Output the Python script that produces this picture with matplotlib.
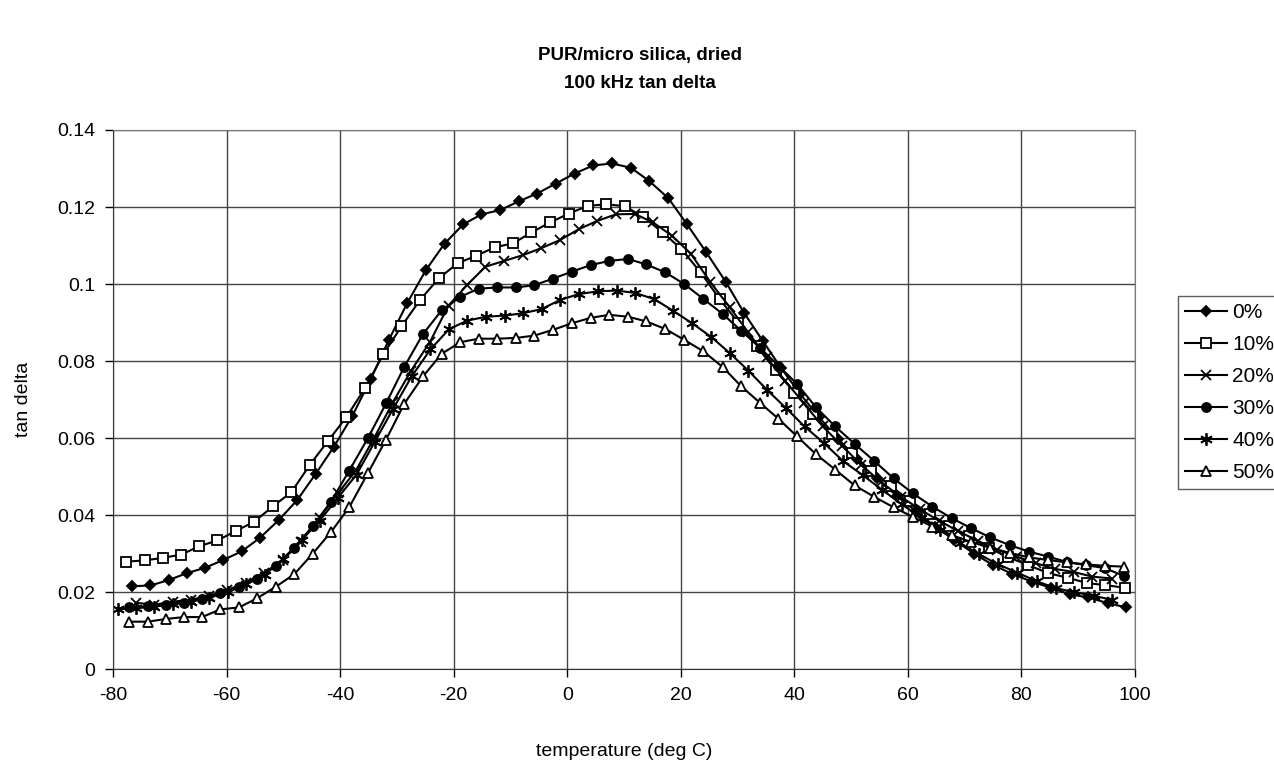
import matplotlib
matplotlib.use('Agg')
import matplotlib.pyplot as plt

plt.rcParams['font.family'] = ['Liberation Sans', 'DejaVu Sans']
plt.rcParams['axes.unicode_minus'] = False

# temperatures (deg C) per series
t0 = [-76.7, -73.4, -70.2, -67.0, -63.8, -60.6, -57.3, -54.1, -50.8, -47.6,
      -44.3, -41.1, -37.9, -34.6, -31.4, -28.2, -24.9, -21.6, -18.3, -15.1,
      -11.8, -8.5, -5.3, -2.0, 1.3, 4.6, 7.9, 11.2, 14.4, 17.8,
      21.1, 24.5, 27.9, 31.1, 34.4, 37.7, 41.0, 44.3, 47.7, 51.1,
      54.6, 58.0, 61.4, 64.8, 68.2, 71.6, 75.0, 78.4, 81.8, 85.2,
      88.5, 91.8, 95.2, 98.5]
t10 = [-77.7, -74.4, -71.2, -68.0, -64.8, -61.6, -58.3, -55.1, -51.8, -48.6,
       -45.3, -42.1, -38.9, -35.6, -32.4, -29.2, -25.9, -22.6, -19.3, -16.1,
       -12.8, -9.5, -6.3, -3.0, 0.3, 3.6, 6.9, 10.2, 13.4, 16.8,
       20.1, 23.5, 26.9, 30.1, 33.4, 36.7, 40.0, 43.2, 46.6, 50.1,
       53.5, 57.0, 60.4, 63.9, 67.3, 70.8, 74.2, 77.7, 81.2, 84.7,
       88.2, 91.6, 94.8, 98.2]
t20 = [-76.0, -72.7, -69.5, -66.3, -63.1, -59.9, -56.6, -53.4, -50.1, -46.9,
       -43.6, -40.4, -37.2, -33.9, -30.7, -27.5, -24.2, -20.9, -17.6, -14.4,
       -11.1, -7.8, -4.6, -1.3, 2.0, 5.3, 8.6, 11.9, 15.1, 18.5,
       21.8, 25.2, 28.6, 31.8, 35.1, 38.4, 41.7, 45.0, 48.4, 51.8,
       55.3, 58.7, 62.1, 65.5, 68.9, 72.3, 75.7, 79.1, 82.5, 85.9,
       89.2, 92.5, 95.9]
t30 = [-77.2, -73.9, -70.7, -67.5, -64.3, -61.1, -57.8, -54.6, -51.3, -48.1,
       -44.8, -41.6, -38.4, -35.1, -31.9, -28.7, -25.4, -22.1, -18.8, -15.6,
       -12.3, -9.0, -5.8, -2.5, 0.8, 4.1, 7.4, 10.7, 13.9, 17.3,
       20.6, 24.0, 27.4, 30.6, 33.9, 37.2, 40.5, 43.8, 47.2, 50.6,
       54.1, 57.5, 60.9, 64.3, 67.7, 71.1, 74.5, 77.9, 81.3, 84.7,
       88.0, 91.3, 94.7, 98.0]
t40 = [-79.1, -75.9, -72.7, -69.5, -66.3, -63.1, -59.8, -56.6, -53.3, -50.1,
       -46.8, -43.6, -40.4, -37.1, -33.9, -30.7, -27.4, -24.1, -20.8, -17.6,
       -14.3, -11.0, -7.8, -4.5, -1.2, 2.1, 5.4, 8.7, 11.9, 15.3,
       18.6, 22.0, 25.4, 28.6, 31.9, 35.2, 38.5, 41.8, 45.2, 48.6,
       52.1, 55.5, 58.9, 62.3, 65.7, 69.1, 72.5, 75.9, 79.3, 82.7,
       86.0, 89.3, 92.7, 96.0]
t50 = t30

# tan delta values
v0 = [0.0215, 0.0217, 0.0231, 0.0249, 0.0263, 0.0283, 0.0306, 0.0341, 0.0387, 0.0438,
      0.0507, 0.0577, 0.0656, 0.0753, 0.0855, 0.0950, 0.1036, 0.1105, 0.1155, 0.1181,
      0.1192, 0.1215, 0.1235, 0.1261, 0.1287, 0.1308, 0.1313, 0.1302, 0.1268, 0.1223,
      0.1155, 0.1082, 0.1006, 0.0926, 0.0853, 0.0781, 0.0715, 0.0655, 0.0598, 0.0545,
      0.0495, 0.0450, 0.0410, 0.0370, 0.0335, 0.0300, 0.0270, 0.0247, 0.0227, 0.0211,
      0.0194, 0.0186, 0.0171, 0.0160]
v10 = [0.0279, 0.0282, 0.0289, 0.0297, 0.0319, 0.0334, 0.0359, 0.0383, 0.0423, 0.0459,
       0.0531, 0.0593, 0.0654, 0.0730, 0.0817, 0.0890, 0.0959, 0.1015, 0.1054, 0.1073,
       0.1095, 0.1106, 0.1134, 0.1160, 0.1183, 0.1203, 0.1207, 0.1202, 0.1174, 0.1134,
       0.1091, 0.1030, 0.0960, 0.0900, 0.0838, 0.0776, 0.0718, 0.0663, 0.0610, 0.0560,
       0.0515, 0.0475, 0.0437, 0.0402, 0.0372, 0.0345, 0.0315, 0.0290, 0.0270, 0.0249,
       0.0237, 0.0223, 0.0218, 0.0211]
v20 = [0.0172, 0.0167, 0.0175, 0.0180, 0.0190, 0.0205, 0.0224, 0.0250, 0.0283, 0.0331,
       0.0393, 0.0456, 0.0516, 0.0603, 0.0693, 0.0775, 0.0849, 0.0944, 0.0998, 0.1045,
       0.1060, 0.1075, 0.1093, 0.1114, 0.1142, 0.1164, 0.1181, 0.1182, 0.1160, 0.1125,
       0.1078, 0.1005, 0.0940, 0.0876, 0.0810, 0.0748, 0.0690, 0.0630, 0.0580, 0.0530,
       0.0485, 0.0448, 0.0415, 0.0385, 0.0358, 0.0333, 0.0310, 0.0292, 0.0275, 0.0260,
       0.0252, 0.0240, 0.0235]
v30 = [0.0160, 0.0163, 0.0166, 0.0172, 0.0182, 0.0197, 0.0213, 0.0235, 0.0268, 0.0315,
       0.0372, 0.0435, 0.0515, 0.0600, 0.0690, 0.0785, 0.0870, 0.0932, 0.0967, 0.0988,
       0.0991, 0.0991, 0.0997, 0.1014, 0.1032, 0.1049, 0.1060, 0.1065, 0.1051, 0.1030,
       0.1000, 0.0961, 0.0922, 0.0879, 0.0835, 0.0788, 0.0740, 0.0680, 0.0630, 0.0585,
       0.0540, 0.0495, 0.0456, 0.0422, 0.0392, 0.0366, 0.0342, 0.0322, 0.0305, 0.0292,
       0.0278, 0.0270, 0.0262, 0.0242]
v40 = [0.0155, 0.0158, 0.0162, 0.0168, 0.0175, 0.0185, 0.0200, 0.0220, 0.0245, 0.0285,
       0.0335, 0.0385, 0.0445, 0.0505, 0.0590, 0.0675, 0.0760, 0.0830, 0.0883, 0.0905,
       0.0915, 0.0918, 0.0924, 0.0935, 0.0959, 0.0974, 0.0981, 0.0983, 0.0977, 0.0961,
       0.0931, 0.0898, 0.0862, 0.0821, 0.0775, 0.0725, 0.0678, 0.0630, 0.0587, 0.0540,
       0.0503, 0.0465, 0.0428, 0.0393, 0.0360, 0.0328, 0.0298, 0.0272, 0.0250, 0.0228,
       0.0210, 0.0200, 0.0190, 0.0180]
v50 = [0.0123, 0.0123, 0.0130, 0.0135, 0.0135, 0.0155, 0.0160, 0.0184, 0.0214, 0.0246,
       0.0300, 0.0356, 0.0420, 0.0509, 0.0596, 0.0689, 0.0760, 0.0819, 0.0849, 0.0858,
       0.0858, 0.0860, 0.0866, 0.0881, 0.0898, 0.0912, 0.0920, 0.0915, 0.0903, 0.0883,
       0.0855, 0.0825, 0.0784, 0.0735, 0.0692, 0.0650, 0.0604, 0.0558, 0.0518, 0.0477,
       0.0447, 0.0420, 0.0395, 0.0370, 0.0348, 0.0330, 0.0315, 0.0302, 0.0290, 0.0283,
       0.0277, 0.0272, 0.0268, 0.0266]

labels = ['0%', '10%', '20%', '30%', '40%', '50%']
temps = [t0, t10, t20, t30, t40, t50]
values = [v0, v10, v20, v30, v40, v50]
markers = ['D', 's', 'x', 'o', (6, 2, 0), '^']
sizes = [5.5, 6.5, 7.5, 6.5, 9, 6.5]
faces = ['black', 'white', 'black', 'black', 'black', 'white']

fig = plt.figure(figsize=(12.74, 7.62), dpi=100)
ax = fig.add_axes([0.0887, 0.122, 0.8022, 0.7074])

for t, v, lab, m, s, fc in zip(temps, values, labels, markers, sizes, faces):
    ax.plot(t, v, color='black', lw=1.5, marker=m, ms=s, mfc=fc, mec='black',
            mew=1.3, label=lab)

ax.set_xlim(-80, 100)
ax.set_ylim(0, 0.14)
ax.set_xticks(range(-80, 101, 20))
ax.set_yticks([0, 0.02, 0.04, 0.06, 0.08, 0.1, 0.12, 0.14])
ax.set_yticklabels(['0', '0.02', '0.04', '0.06', '0.08', '0.1', '0.12', '0.14'])
ax.grid(True, color='#444444', lw=1.0)
ax.set_axisbelow(True)
ax.tick_params(direction='out', length=6, width=1, labelsize=14, pad=7)
for side in ['top', 'right']:
    ax.spines[side].set_color('#777777')
    ax.spines[side].set_linestyle((0, (1, 1)))
for side in ['left', 'bottom']:
    ax.spines[side].set_color('#333333')

ax.set_xlabel('temperature (deg C)', fontsize=14, labelpad=28)
ax.set_ylabel('tan delta', fontsize=14, labelpad=18)

fig.text(0.502, 0.927, 'PUR/micro silica, dried', ha='center', va='center',
         fontsize=13.5, fontweight='bold')
fig.text(0.502, 0.891, '100 kHz tan delta', ha='center', va='center',
         fontsize=13.5, fontweight='bold')

leg = ax.legend(loc='upper left', bbox_to_anchor=(1.042, 0.692), frameon=True,
                fancybox=False, edgecolor='#333333', fontsize=15,
                handlelength=2.0, handletextpad=0.25, labelspacing=0.62,
                borderpad=0.35, borderaxespad=0)
leg.get_frame().set_linewidth(1.0)

fig.savefig('out.png', dpi=100)
